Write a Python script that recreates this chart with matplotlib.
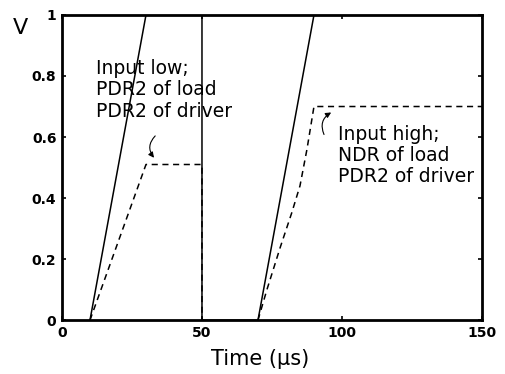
import matplotlib
matplotlib.use('Agg')
import matplotlib.pyplot as plt

# input transitions (solid) and node voltage responses (dashed)
t_in1 = [10, 30, 50, 50, 70, 90, 150]
v_in1 = [0, 1.0, 1.0, 0, 0, 1.0, 1.0]

t_low = [10, 30, 49, 50, 50]
v_low = [0, 0.51, 0.51, 0.51, 0]

t_high = [70, 73.2, 78, 82, 85, 87.5, 90, 150]
v_high = [0, 0.10, 0.24, 0.35, 0.44, 0.56, 0.70, 0.70]

xticks = [0, 50, 100, 150]
yticks = [0, 0.2, 0.4, 0.6, 0.8, 1]
ytick_labels = ['0', '0.2', '0.4', '0.6', '0.8', '1']

FONT_SIZE = 13.5
NUM_FONT_SIZE = 10

fig = plt.figure(figsize=(5.06, 3.74), dpi=100)
ax = fig.add_axes([0.1225, 0.144, 0.830, 0.816])

ax.plot(t_in1, v_in1, 'k-', linewidth=1.1)
ax.plot(t_low, v_low, 'k--', linewidth=1.1, dashes=(4, 3))
ax.plot(t_high, v_high, 'k--', linewidth=1.1, dashes=(4, 3))

ax.set_xlim(0, 150)
ax.set_ylim(0, 1)
ax.set_xticks(xticks)
ax.set_yticks(yticks)
ax.set_yticklabels(ytick_labels)
ax.tick_params(direction='in', top=True, right=True, length=3, width=1.2,
               labelsize=NUM_FONT_SIZE, pad=4)
for lab in ax.get_xticklabels() + ax.get_yticklabels():
    lab.set_fontweight('bold')
for sp in ax.spines.values():
    sp.set_linewidth(2)

ax.set_xlabel('Time (\u03bcs)', fontsize=15)
ax.xaxis.set_label_coords(0.471, -0.095)
fig.text(0.040, 0.925, 'V', fontsize=16, ha='center', va='center')

ax.text(12, 0.855, 'Input low;\nPDR2 of load\nPDR2 of driver', fontsize=FONT_SIZE,
        va='top', ha='left', linespacing=1.15)
ax.annotate('', xy=(33.5, 0.525), xytext=(34, 0.61),
            arrowprops=dict(arrowstyle='-|>', color='k', lw=0.8,
                            connectionstyle='arc3,rad=0.5', mutation_scale=8))

ax.text(98.5, 0.64, 'Input high;\nNDR of load\nPDR2 of driver', fontsize=FONT_SIZE,
        va='top', ha='left', linespacing=1.15)
ax.annotate('', xy=(97, 0.685), xytext=(94, 0.6),
            arrowprops=dict(arrowstyle='-|>', color='k', lw=0.8,
                            connectionstyle='arc3,rad=-0.5', mutation_scale=8))

plt.savefig('out.png', dpi=100)
